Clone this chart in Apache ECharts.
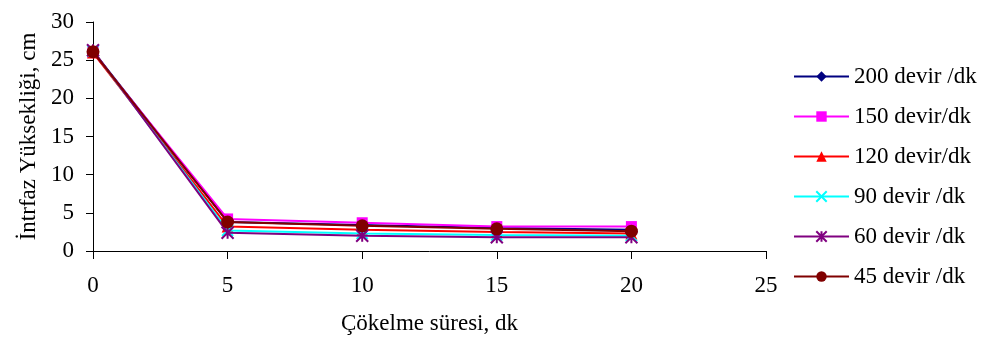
<!DOCTYPE html>
<html><head><meta charset="utf-8">
<script src="https://cdn.jsdelivr.net/npm/echarts@6/dist/echarts.min.js"></script>
<style>html,body{margin:0;padding:0;background:#fff}#c{width:984px;height:347px}</style>
</head><body><div id="c"></div>
<script>
const times = [0, 5, 10, 15, 20];
const xTicks = [0, 5, 10, 15, 20, 25];
const yTicks = [0, 5, 10, 15, 20, 25, 30];
const names = ['200 devir /dk', '150 devir/dk', '120 devir/dk', '90 devir /dk', '60 devir /dk', '45 devir /dk'];
const s200 = [26.2, 3.8, 3.4, 3.0, 2.8];
const s150 = [26.0, 4.2, 3.7, 3.2, 3.2];
const s120 = [26.0, 3.2, 2.8, 2.5, 2.3];
const s90  = [26.2, 2.7, 2.3, 2.1, 2.0];
const s60  = [26.3, 2.4, 2.0, 1.8, 1.8];
const s45  = [26.1, 3.8, 3.3, 2.9, 2.6];
const allSeries = [s200, s150, s120, s90, s60, s45];
const colors = ['#000080', '#FF00FF', '#FF0000', '#00FFFF', '#800080', '#800000'];
const symbols = ['diamond', 'rect', 'triangle',
  'path://M0 0 L10 10 M10 0 L0 10',
  'path://M0 0 L10 10 M10 0 L0 10 M5 0 L5 10',
  'circle'];
const sizes = [12, 11, 12, 11, 12, 13];
const font = 'Liberation Serif';
const fs = 23;
const chart = echarts.init(document.getElementById('c'), null, {renderer: 'canvas'});
chart.setOption({
  animation: false,
  textStyle: {fontFamily: font},
  grid: {left: 93, right: 218, top: 22, bottom: 96},
  xAxis: {
    type: 'value', min: xTicks[0], max: xTicks[xTicks.length - 1], interval: 5,
    name: 'Çökelme süresi, dk', nameLocation: 'middle', nameGap: 61,
    nameTextStyle: {fontFamily: font, fontSize: fs, color: '#000'},
    axisLine: {lineStyle: {color: '#000', width: 1}},
    axisTick: {show: true, length: 8, lineStyle: {color: '#000'}},
    axisLabel: {fontFamily: font, fontSize: fs, color: '#000', margin: 23},
    splitLine: {show: false}
  },
  yAxis: {
    type: 'value', min: yTicks[0], max: yTicks[yTicks.length - 1], interval: 5,
    name: 'İntrfaz Yüksekliği, cm', nameLocation: 'middle', nameGap: 44,
    nameTextStyle: {fontFamily: font, fontSize: fs, color: '#000'},
    axisLine: {show: true, lineStyle: {color: '#000', width: 1}},
    axisTick: {show: true, length: 7, lineStyle: {color: '#000'}},
    axisLabel: {fontFamily: font, fontSize: fs, color: '#000', margin: 19},
    splitLine: {show: false}
  },
  legend: {
    orient: 'vertical', left: 788, top: 60, itemWidth: 55, itemHeight: 13, itemGap: 17,
    textStyle: {fontFamily: font, fontSize: fs, color: '#000'},
    data: names.map((n, i) => ({name: n}))
  },
  series: allSeries.map((d, i) => ({
    name: names[i], type: 'line',
    data: d.map((v, j) => [times[j], v]),
    symbol: symbols[i], symbolSize: sizes[i],
    lineStyle: {color: colors[i], width: 2},
    itemStyle: {color: colors[i], borderColor: colors[i], borderWidth: (i === 3 || i === 4) ? 2 : 0},
    z: 2 + i
  }))
});
</script></body></html>
